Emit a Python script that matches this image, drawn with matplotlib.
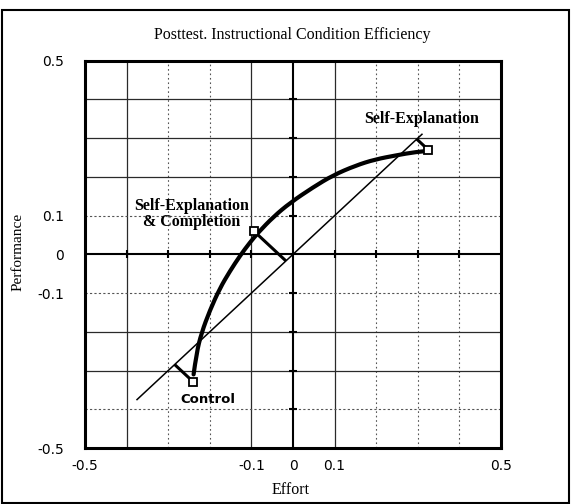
import matplotlib
matplotlib.use("Agg")
import matplotlib.pyplot as plt
from matplotlib.patches import Rectangle, PathPatch
from matplotlib.path import Path

# ---- data ----
conditions = ["Control", "Self-Explanation\n& Completion", "Self-Explanation"]
effort = [-0.240, -0.094, 0.325]
performance = [-0.329, 0.060, 0.270]

# thick curve joining the conditions
curve_effort = [-0.239, -0.232, -0.220, -0.200, -0.176, -0.152, -0.127, -0.104,
                -0.083, -0.047, -0.007, 0.048, 0.096, 0.150, 0.197, 0.250, 0.293, 0.322]
curve_performance = [-0.310, -0.255, -0.203, -0.145, -0.088, -0.044, -0.003, 0.030,
                     0.057, 0.097, 0.133, 0.173, 0.204, 0.229, 0.245, 0.256, 0.264, 0.267]

# E = 0 diagonal (performance = effort)
diag_range = [-0.375, 0.31]

x_tick_values = [-0.5, -0.1, 0, 0.1, 0.5]
x_tick_labels = ["-0.5", "-0.1", "0", "0.1", "0.5"]
y_tick_values = [0.5, 0.1, 0, -0.1, -0.5]
y_tick_labels = ["0.5", "0.1", "0", "-0.1", "-0.5"]

grid_solid_x = [-0.4, -0.1, 0.1]
grid_dotted_x = [-0.3, -0.2, 0.2, 0.3, 0.4]
grid_solid_y = [0.4, 0.3, 0.2, -0.2, -0.3]
grid_dotted_y = [0.1, -0.1, -0.4]
zero_ticks = [-0.4, -0.3, -0.2, -0.1, 0.1, 0.2, 0.3, 0.4]

# ---- figure ----
fig = plt.figure(figsize=(5.76, 5.04), dpi=100)
ax = fig.add_axes([0.1476, 0.1111, 0.7222, 0.7685])
ax.set_xlim(-0.5, 0.5)
ax.set_ylim(-0.5, 0.5)

for v in grid_solid_x:
    ax.axvline(v, color="#2a2a2a", lw=0.9, zorder=1)
for v in grid_dotted_x:
    ax.axvline(v, color="#555555", lw=0.8, ls=(0, (1.5, 2.5)), zorder=1)
for v in grid_solid_y:
    ax.axhline(v, color="#2a2a2a", lw=0.9, zorder=1)
for v in grid_dotted_y:
    ax.axhline(v, color="#555555", lw=0.8, ls=(0, (2, 2)), zorder=1)

ax.axhline(0, color="black", lw=1.5, zorder=2)
ax.axvline(0, color="black", lw=1.5, zorder=2)
ax.plot(zero_ticks, [0] * len(zero_ticks), ls="none", marker="|", ms=6,
        mew=1.5, color="black", zorder=2)
ax.plot([0] * len(zero_ticks), zero_ticks, ls="none", marker="_", ms=6,
        mew=1.5, color="black", zorder=2)

# diagonal
ax.plot(diag_range, diag_range, color="black", lw=1.1, zorder=3)

# smooth thick curve (quadratic Bezier through segment midpoints)
pts = list(zip(curve_effort, curve_performance))
verts = [pts[0]]
codes = [Path.MOVETO]
n = len(pts)
for i in range(1, n - 1):
    if i < n - 2:
        end = ((pts[i][0] + pts[i + 1][0]) / 2, (pts[i][1] + pts[i + 1][1]) / 2)
    else:
        end = pts[i + 1]
    verts += [pts[i], end]
    codes += [Path.CURVE3, Path.CURVE3]
ax.add_patch(PathPatch(Path(verts, codes), fill=False, lw=3.0, ec="black",
                       capstyle="round", joinstyle="round", zorder=4))

# perpendiculars to the diagonal
for x, y in zip(effort, performance):
    m = (x + y) / 2
    ax.plot([x, m], [y, m], color="black", lw=2.2, solid_capstyle="butt", zorder=4)

# condition markers
ax.plot(effort, performance, ls="none", marker="s", ms=6, mfc="white",
        mec="black", mew=1.3, zorder=5)

for s in ax.spines.values():
    s.set_linewidth(2.2)

ax.set_xticks(x_tick_values, x_tick_labels)
ax.set_yticks(y_tick_values, y_tick_labels)
ax.tick_params(axis="x", length=0, labelsize=10, pad=8)
ax.tick_params(axis="y", length=0, labelsize=10, pad=15)

serif = "Liberation Serif"
ax.text(0.310, 0.350, conditions[2], ha="center", va="center",
        family=serif, weight="bold", fontsize=11.5)
ax.text(-0.243, 0.1045, conditions[1], ha="center", va="center",
        family=serif, weight="bold", fontsize=11.5, linespacing=1.05)
ax.text(-0.204, -0.375, conditions[0], ha="center", va="center",
        family="DejaVu Sans", weight="bold", fontsize=9.5)

fig.text(0.507, 0.9306, "Posttest. Instructional Condition Efficiency",
         ha="center", va="center", family=serif, fontsize=11.5)
fig.text(0.505, 0.028, "Effort", ha="center", va="center", family=serif, fontsize=11.5)
fig.text(0.031, 0.5, "Performance", ha="center", va="center", rotation=90,
         family=serif, fontsize=11)

fig.add_artist(Rectangle((0.0035, 0.002), 0.9845, 0.978, transform=fig.transFigure,
                         fill=False, lw=1.5, ec="black"))

fig.savefig("out.png", dpi=100)
